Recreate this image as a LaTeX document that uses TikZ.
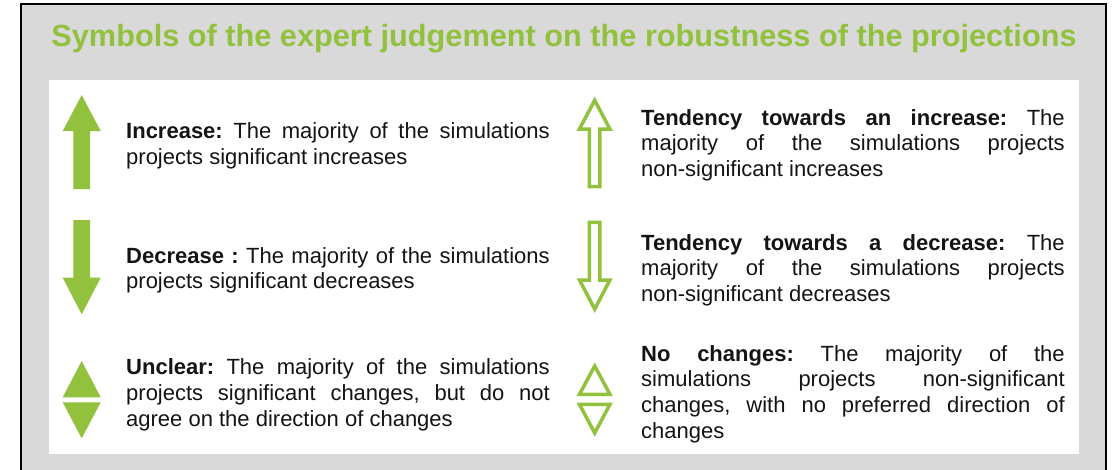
\documentclass[tikz,border=0pt]{standalone}
\usepackage{fontspec}
\setmainfont{Liberation Sans}

\definecolor{leaf}{RGB}{146,193,62}
\definecolor{panel}{RGB}{217,217,217}
\definecolor{ink}{RGB}{20,20,20}

% width of one text column
\newlength\colw
\setlength\colw{423.5pt}
% a justified line: every interword space stretches equally
\newcommand\jline[1]{\hbox to \colw{\spaceskip=\fontdimen2\font plus 1fil\relax #1}}
% the last line of a paragraph, set at natural width
\newcommand\lline[1]{\hbox{#1}}
% a stack of lines whose baseline is the first line's baseline
\newcommand\blocktext[1]{\vtop{\fontsize{22pt}{25.9pt}\selectfont\frenchspacing\baselineskip=25.9pt #1}}

\tikzset{
  solidsym/.style={fill=leaf},
  hollowsym/.style={draw=leaf, line width=3.5pt, line join=miter, fill=white},
  legendtext/.style={anchor=base west, inner sep=0pt, text=ink},
}

\begin{document}
\begin{tikzpicture}[x=1pt,y=-1pt]
\useasboundingbox (0,0) rectangle (1114,469);
\clip (0,0) rectangle (1114,469);

% grey panel with its frame, and the white card inside
\fill[panel] (21,4) rectangle (1106,480);
\draw[black, line width=1.6pt] (21,480) -- (21,4) -- (1106,4) -- (1106,480);
\fill[white] (49,80) rectangle (1078.7,454);

% heading
\node[anchor=base, inner sep=0pt, text=leaf,
      font=\fontsize{30.7pt}{36pt}\selectfont\bfseries] (title) at (564,46.7)
  {Symbols of the expert judgement on the robustness of the projections};

% ---- left column: filled symbols ----
% increase
\path[solidsym] (81.7,95) -- (100.7,131) -- (90,131) -- (90,189)
  -- (73.4,189) -- (73.4,131) -- (62.7,131) -- cycle;
% decrease
\path[solidsym] (73.4,220) -- (90,220) -- (90,277.7) -- (100.7,277.7)
  -- (81.7,314.3) -- (62.7,277.7) -- (73.4,277.7) -- cycle;
% unclear
\path[solidsym] (81.7,361) -- (100.7,397.3) -- (62.7,397.3) -- cycle;
\path[solidsym] (62.7,402.3) -- (100.7,402.3) -- (81.7,438.3) -- cycle;

% ---- right column: outlined symbols ----
% tendency towards an increase
\path[hollowsym] (594.7,100.3) -- (609.9,129) -- (599.95,129) -- (599.95,186.55)
  -- (589.45,186.55) -- (589.45,129) -- (579.5,129) -- cycle;
% tendency towards a decrease
\path[hollowsym] (589.45,222.45) -- (599.95,222.45) -- (599.95,280.05) -- (609.9,280.05)
  -- (594.7,309.1) -- (579.5,280.05) -- (589.45,280.05) -- cycle;
% no changes
\path[hollowsym] (594.7,366) -- (609.9,394.25) -- (579.5,394.25) -- cycle;
\path[hollowsym] (579.5,404.45) -- (609.9,404.45) -- (594.7,433) -- cycle;

% ---- descriptions ----
\node[legendtext] (inc) at (126,138.3) {\blocktext{%
  \jline{\textbf{Increase:} The majority of the simulations}
  \lline{projects significant increases}}};

\node[legendtext] (dec) at (126,263) {\blocktext{%
  \jline{\textbf{Decrease :} The majority of the simulations}
  \lline{projects significant decreases}}};

\node[legendtext] (unc) at (126,374.3) {\blocktext{%
  \jline{\textbf{Unclear:} The majority of the simulations}
  \jline{projects significant changes, but do not}
  \lline{agree on the direction of changes}}};

\node[legendtext] (tinc) at (641,125) {\blocktext{%
  \jline{\textbf{Tendency towards an increase:} The}
  \jline{majority of the simulations projects}
  \lline{non-significant increases}}};

\node[legendtext] (tdec) at (641,250) {\blocktext{%
  \jline{\textbf{Tendency towards a decrease:} The}
  \jline{majority of the simulations projects}
  \lline{non-significant decreases}}};

\node[legendtext] (noch) at (641,361) {\blocktext{%
  \jline{\textbf{No changes:} The majority of the}
  \jline{simulations projects non-significant}
  \jline{changes, with no preferred direction of}
  \lline{changes}}};

\end{tikzpicture}
\end{document}
